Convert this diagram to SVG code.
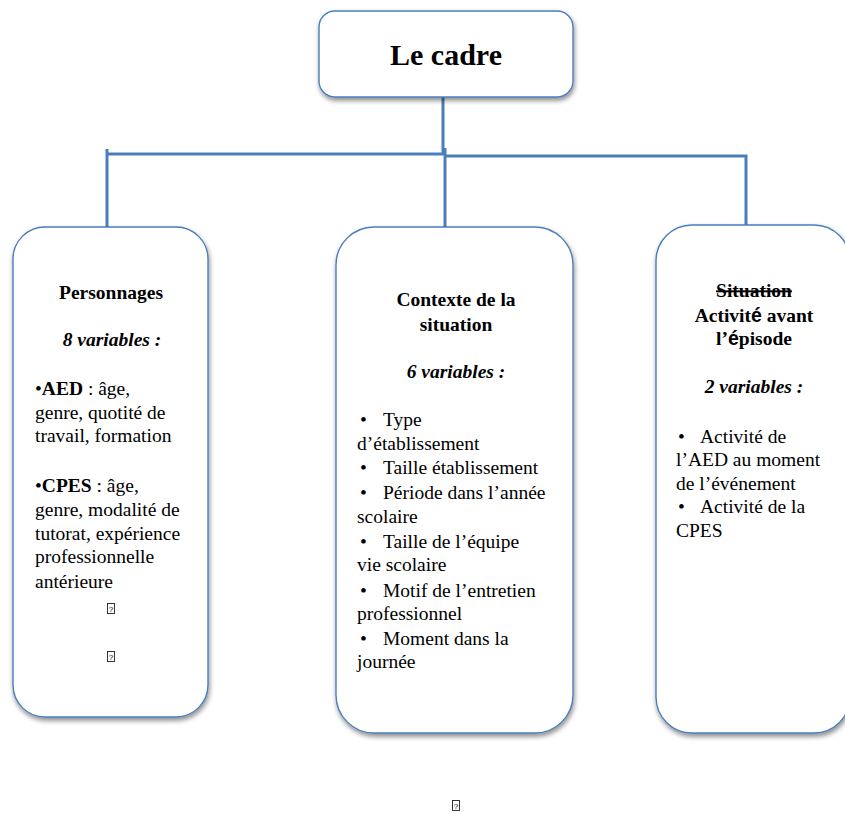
<svg xmlns="http://www.w3.org/2000/svg" width="845" height="814" viewBox="0 0 845 814">
<style>
.box{fill:#fff;stroke:#4a7ebb;stroke-width:1.4;filter:url(#sh)}
.con{fill:none;stroke:#4a7ebb;stroke-width:3;stroke-linecap:butt}
text{font-family:"Liberation Serif","Times New Roman",serif;font-size:19.5px;fill:#000}
.t{font-weight:bold;text-anchor:middle}
.v{font-weight:bold;font-style:italic;text-anchor:middle}
.b{font-weight:bold}
.s{font-family:"Liberation Sans",Arial,sans-serif}
.tofu{fill:#fff;stroke:#222;stroke-width:0.9}
.q{font-family:"Liberation Sans",Arial,sans-serif;font-size:8px;text-anchor:middle}
</style>
<defs>
<filter id="sh" x="-10%" y="-10%" width="125%" height="125%">
<feGaussianBlur in="SourceAlpha" stdDeviation="2.5"/>
<feOffset dx="1" dy="3" result="o"/>
<feComponentTransfer><feFuncA type="linear" slope="0.45"/></feComponentTransfer>
<feMerge><feMergeNode/><feMergeNode in="SourceGraphic"/></feMerge>
</filter>
</defs>
<g id="connectors">
<path class="con" d="M443 97 V155"/>
<path class="con" d="M107 149 V228"/>
<path class="con" d="M107 154 H445"/>
<path class="con" d="M445 148 V228"/>
<path class="con" d="M445 156 H746 V235"/>
</g>
<g id="root">
<rect class="box" x="319" y="11" width="254" height="86" rx="16"/>
<text class="t" x="446" y="65" style="font-size:30px">Le cadre</text>
</g>
<g id="personnages">
<rect class="box" x="13" y="227" width="195" height="490" rx="32"/>
<text class="t" x="111" y="299">Personnages</text>
<text class="v" x="112" y="346">8 variables :</text>
<text x="35" y="395">•<tspan class="b">AED</tspan> : âge,</text>
<text x="35" y="419">genre, quotité de</text>
<text x="35" y="442">travail, formation</text>
<text x="35" y="492">•<tspan class="b">CPES</tspan> : âge,</text>
<text x="35" y="516">genre, modalité de</text>
<text x="35" y="540">tutorat, expérience</text>
<text x="35" y="563">professionnelle</text>
<text x="35" y="588">antérieure</text>
<rect class="tofu" x="107.5" y="603.5" width="7" height="10"/>
<text class="q" x="111" y="611.5">?</text>
<rect class="tofu" x="107.5" y="651.5" width="7" height="10"/>
<text class="q" x="111" y="659.5">?</text>
</g>
<g id="contexte">
<rect class="box" x="336" y="227" width="237" height="506" rx="38"/>
<text class="t" x="456" y="306">Contexte de la</text>
<text class="t" x="456" y="331">situation</text>
<text class="v" x="456" y="378">6 variables :</text>
<text x="360" y="426">•</text><text x="383" y="426">Type</text>
<text x="357" y="450">d’établissement</text>
<text x="360" y="474">•</text><text x="383" y="474">Taille établissement</text>
<text x="360" y="499">•</text><text x="383" y="499">Période dans l’année</text>
<text x="357" y="523">scolaire</text>
<text x="360" y="548">•</text><text x="383" y="548">Taille de l’équipe</text>
<text x="357" y="571">vie scolaire</text>
<text x="360" y="597">•</text><text x="383" y="597">Motif de l’entretien</text>
<text x="357" y="620">professionnel</text>
<text x="360" y="645">•</text><text x="383" y="645">Moment dans la</text>
<text x="357" y="668">journée</text>
</g>
<g id="situation">
<rect class="box" x="656" y="225" width="194" height="508" rx="36"/>
<text class="t" x="754" y="297" text-decoration="line-through">Situation</text>
<text class="t" x="754" y="322">Activit<tspan class="s">é</tspan> avant</text>
<text class="t" x="754" y="345">l’<tspan class="s">é</tspan>pisode</text>
<text class="v" x="754" y="393">2 variables :</text>
<text x="678" y="443">•</text><text x="700" y="443">Activité de</text>
<text x="676" y="466">l’AED au moment</text>
<text x="676" y="490">de l’événement</text>
<text x="678" y="513">•</text><text x="700" y="513">Activité de la</text>
<text x="676" y="537">CPES</text>
</g>
<g id="footer">
<rect class="tofu" x="452.5" y="800.5" width="7" height="10"/>
<text class="q" x="456" y="808.5">?</text>
</g>
</svg>
